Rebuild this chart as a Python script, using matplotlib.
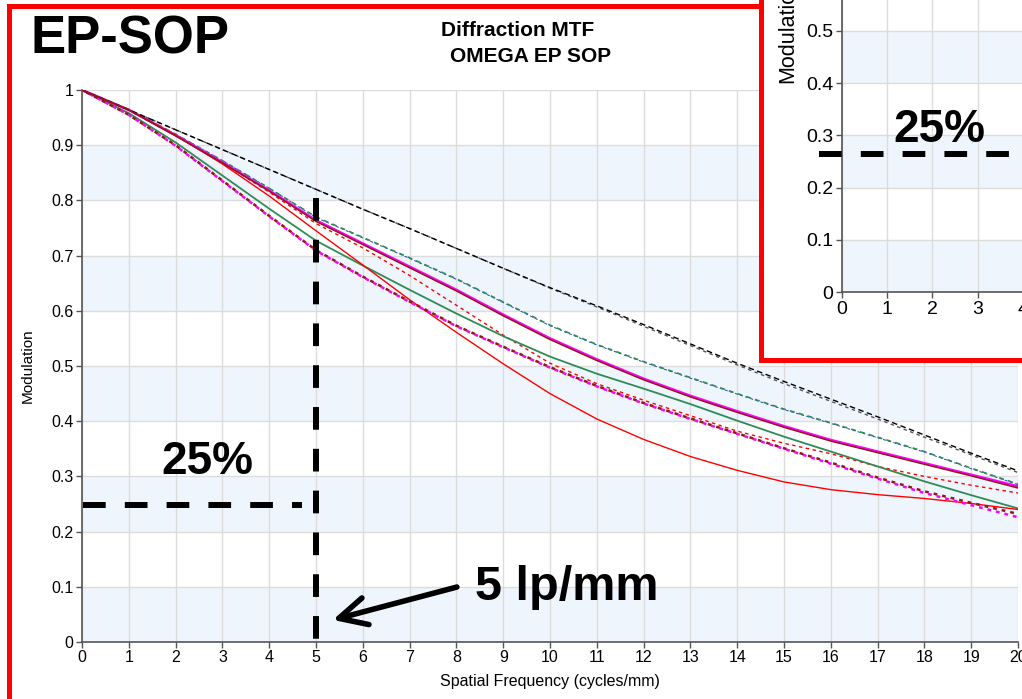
import matplotlib
matplotlib.use("Agg")
import matplotlib.pyplot as plt
from matplotlib.patches import Rectangle

W, H = 1022, 699

# ---------------------------------------------------------------------------
# data (modulation at each integer cycles/mm)
freq = list(range(21))

diff_tan = [1.000, 0.964, 0.928, 0.892, 0.856, 0.820, 0.784, 0.749, 0.713, 0.677, 0.642,
            0.609, 0.575, 0.540, 0.505, 0.472, 0.440, 0.408, 0.375, 0.342, 0.310]
diff_sag = [1.000, 0.964, 0.928, 0.892, 0.856, 0.820, 0.784, 0.749, 0.713, 0.677, 0.641,
            0.607, 0.572, 0.537, 0.502, 0.468, 0.436, 0.404, 0.371, 0.339, 0.307]
blue_sag = [1.000, 0.965, 0.920, 0.872, 0.822, 0.769, 0.732, 0.695, 0.657, 0.615, 0.573,
            0.538, 0.507, 0.478, 0.449, 0.421, 0.396, 0.370, 0.344, 0.314, 0.285]
green_sag = [1.000, 0.965, 0.920, 0.872, 0.822, 0.770, 0.733, 0.696, 0.658, 0.616, 0.574,
             0.539, 0.508, 0.479, 0.450, 0.422, 0.397, 0.371, 0.345, 0.315, 0.286]
magenta_tan = [1.000, 0.964, 0.918, 0.869, 0.818, 0.764, 0.722, 0.680, 0.638, 0.593, 0.550,
               0.512, 0.477, 0.446, 0.418, 0.391, 0.366, 0.345, 0.324, 0.303, 0.282]
maroon_tan = [1.000, 0.964, 0.917, 0.868, 0.817, 0.762, 0.720, 0.678, 0.636, 0.591, 0.548,
              0.510, 0.475, 0.444, 0.416, 0.389, 0.364, 0.343, 0.322, 0.301, 0.279]
red_sag = [1.000, 0.963, 0.917, 0.868, 0.815, 0.758, 0.714, 0.664, 0.610, 0.556, 0.505,
           0.468, 0.438, 0.410, 0.382, 0.360, 0.341, 0.318, 0.300, 0.284, 0.270]
red_tan = [1.000, 0.964, 0.918, 0.866, 0.808, 0.745, 0.683, 0.620, 0.561, 0.504, 0.450,
           0.404, 0.367, 0.336, 0.311, 0.290, 0.276, 0.267, 0.260, 0.251, 0.240]
green_tan = [1.000, 0.958, 0.905, 0.845, 0.785, 0.727, 0.682, 0.638, 0.595, 0.554, 0.517,
             0.486, 0.459, 0.431, 0.401, 0.372, 0.345, 0.318, 0.291, 0.266, 0.242]
maroon_dot = [1.000, 0.955, 0.900, 0.836, 0.772, 0.710, 0.662, 0.617, 0.573, 0.535, 0.498,
              0.464, 0.433, 0.405, 0.378, 0.351, 0.325, 0.298, 0.273, 0.252, 0.232]
magenta_dot = [1.000, 0.955, 0.899, 0.835, 0.771, 0.709, 0.661, 0.616, 0.572, 0.534, 0.497,
               0.463, 0.432, 0.404, 0.377, 0.350, 0.323, 0.296, 0.270, 0.248, 0.226]

band_starts = [0.0, 0.2, 0.4, 0.6, 0.8]
cutoff_freq = 5
threshold = 0.25

BAND = "#EEF5FD"
GRID = "#DCDCDC"
SPINE = "#555555"
GREEN = "#2E8B57"
MAROON = "#8B1A1A"

plt.rcParams.update({"font.family": ["Liberation Sans", "DejaVu Sans"]})


def px_to_fig(x, y):
    return x / W, 1 - y / H


def style_axes(ax, tick_size):
    for y0 in band_starts:
        ax.axhspan(y0, y0 + 0.1, color=BAND, lw=0, zorder=0)
    ax.set_xticks(range(0, 21))
    ax.set_yticks([i / 10 for i in range(11)])
    ax.set_yticklabels(["0"] + [f"{i / 10:.1f}" for i in range(1, 10)] + ["1"])
    ax.grid(True, color=GRID, lw=1.0, zorder=0.5)
    ax.set_axisbelow(True)
    for s in ("top", "right"):
        ax.spines[s].set_visible(False)
    for s in ("left", "bottom"):
        ax.spines[s].set_color(SPINE)
        ax.spines[s].set_linewidth(1.2)
    ax.tick_params(direction="out", length=4, width=1, color=SPINE,
                   labelsize=tick_size, pad=2)
    ax.set_xlim(0, 20)
    ax.set_ylim(0, 1)


fig = plt.figure(figsize=(W / 100, H / 100), dpi=100)

# outer red frame
fig.patches.append(Rectangle((8.5 / W, -0.2), 1.5, 1.2 - 6.5 / H, transform=fig.transFigure,
                             fill=False, edgecolor="red", lw=3.6, zorder=1))

# ---------------------------------------------------------------------------
# main chart
ax = fig.add_axes([82 / W, 57 / H, 936 / W, 552 / H], zorder=0)
style_axes(ax, 11.5)

sag_dash = (0, (3, 2.5))
curves = [
    (blue_sag, "#1f3fbf", sag_dash, 0.7, 2.5),
    (diff_sag, "#555555", (0, (2.5, 2.5)), 1.0, 3),
    (diff_tan, "black", (0, (4, 2.5)), 1.0, 3.1),
    (green_sag, GREEN, sag_dash, 1.2, 3),
    (red_sag, "red", (0, (2.5, 2.5)), 1.0, 3),
    (magenta_tan, "magenta", "-", 1.8, 3),
    (maroon_tan, MAROON, "-", 1.1, 3.1),
    (green_tan, GREEN, "-", 1.3, 3),
    (red_tan, "red", "-", 1.0, 3),
    (magenta_dot, "magenta", (0, (1.5, 2)), 1.8, 3),
    (maroon_dot, MAROON, (1.5, (1.5, 2)), 1.8, 3),
]
for vals, col, ls, lw, z in curves:
    ax.plot(freq, vals, color=col, linestyle=ls, lw=lw, zorder=z)

ax.set_ylabel("Modulation", fontsize=11, labelpad=12)
ax.set_xlabel("Spatial Frequency (cycles/mm)", fontsize=11.5, labelpad=6)

# annotations: 25% threshold, 5 lp/mm cut, arrow
ax.plot([0.02, 4.70], [threshold - 0.002, threshold - 0.002], color="black", lw=4.3,
        linestyle=(0, (3.8, 3.2)), solid_capstyle="butt", dash_capstyle="butt",
        zorder=5, clip_on=False)
ax.plot([cutoff_freq, cutoff_freq], [0.805, 0.0], color="black", lw=4.3,
        linestyle=(0, (3.8, 3.2)), dash_capstyle="butt", zorder=5, clip_on=False)
ax.text(2.67, 0.304, "25%", fontsize=33, fontweight="bold", ha="center",
        va="baseline", zorder=6)
ax.annotate("", xy=(5.36, 0.040), xytext=(8.01, 0.0996),
            arrowprops=dict(arrowstyle="->,head_length=0.9,head_width=0.45",
                            lw=4, color="black", mutation_scale=22,
                            shrinkA=0, shrinkB=0), zorder=6)
ax.text(10.36, 0.076, "5 lp/mm", fontsize=35, fontweight="bold", ha="center",
        va="baseline", zorder=6)

# titles
fx, fy = px_to_fig(130, 40)
fig.text(fx, fy, "EP-SOP", fontsize=38, fontweight="bold", ha="center", va="center")
fx, fy = px_to_fig(518, 31)
fig.text(fx, fy, "Diffraction MTF", fontsize=15, fontweight="bold", ha="center", va="center")
fx, fy = px_to_fig(531, 56)
fig.text(fx, fy, "OMEGA EP SOP", fontsize=15, fontweight="bold", ha="center", va="center")

# ---------------------------------------------------------------------------
# zoomed copy in the top-right corner
fig.patches.append(Rectangle((761 / W, 1 - 359.5 / H), 1.0, 1.0, transform=fig.transFigure,
                             facecolor="white", edgecolor="red", lw=3.6, zorder=2))
ins = fig.add_axes([841.7 / W, 1 - 292.3 / H, 20 * 45.3 / W, 523 / H], zorder=3)
style_axes(ins, 14)
ins.set_ylabel("Modulation", fontsize=15.5, labelpad=6)
ins.plot([-0.5, 4.5], [0.265, 0.265], color="black", lw=4.3,
         linestyle=(0, (3.8, 3.2)), dash_capstyle="butt", zorder=5, clip_on=False)
ins.text(2.15, 0.287, "25%", fontsize=33, fontweight="bold", ha="center",
         va="baseline", zorder=6)

fig.savefig("out.png", dpi=100)
